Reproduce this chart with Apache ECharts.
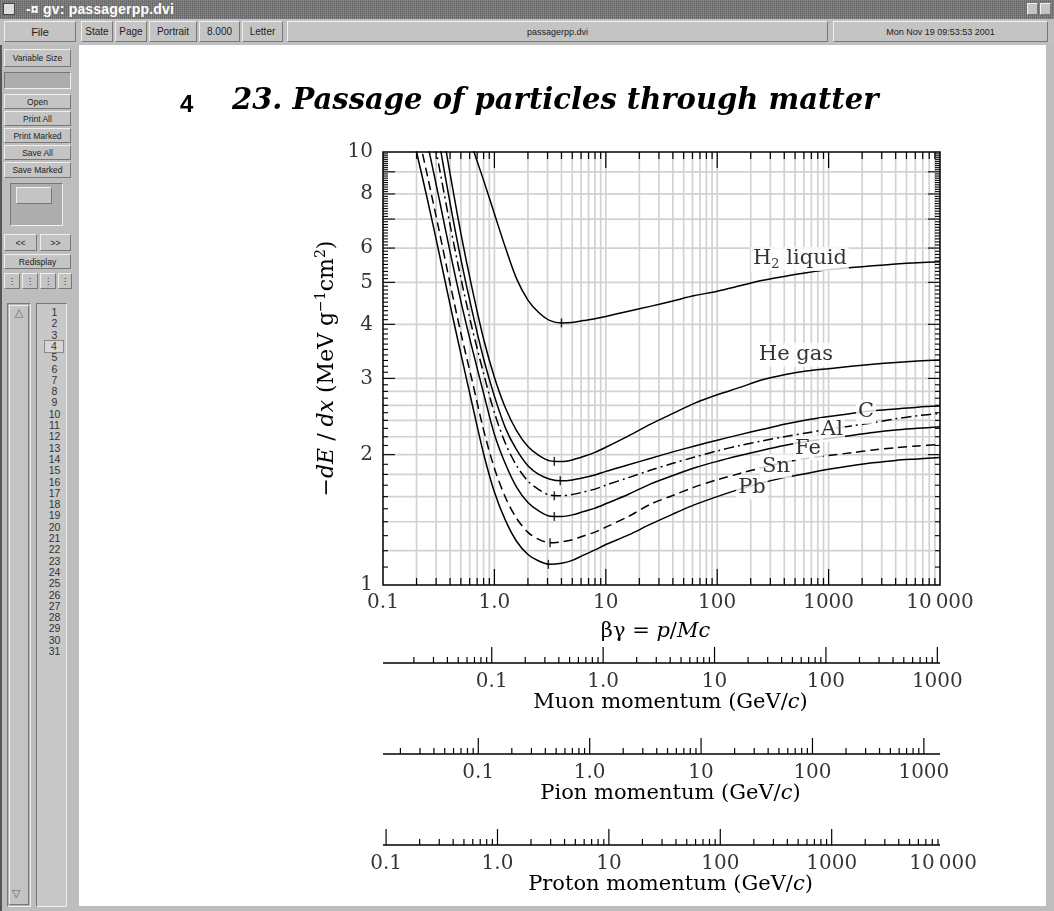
<!DOCTYPE html>
<html>
<head>
<meta charset="utf-8">
<title>gv: passagerpp.dvi</title>
<script src="https://cdn.jsdelivr.net/npm/echarts@6/dist/echarts.min.js"></script>
<style>
  html, body { margin: 0; padding: 0; width: 1054px; height: 911px; overflow: hidden; background: #bdbdbd; font-family: "Liberation Sans", "DejaVu Sans", sans-serif; }
  .abs { position: absolute; box-sizing: border-box; }
  .titlebar { left: 0; top: 0; width: 1054px; height: 19px; background-color: #7c7c7c;
    background-image: repeating-linear-gradient(90deg, rgba(0,0,0,.18) 0 1px, transparent 1px 2px),
                      repeating-linear-gradient(0deg, rgba(255,255,255,.10) 0 1px, transparent 1px 2px); }
  .titletext { left: 26px; top: 1px; color: #fff; font-weight: bold; font-size: 14px; letter-spacing: 0.2px; }
  .btn { background: #c4c4c4; border: 1px solid; border-color: #efefef #777 #777 #efefef; font-size: 9.5px; color: #222;
    display: flex; align-items: center; justify-content: center; white-space: nowrap; }
  .inset { background: #adadad; border: 1px solid; border-color: #777 #efefef #efefef #777; }
  #page { left: 79px; top: 45px; width: 967px; height: 861px; background: #fff; }
  #chart { left: 0; top: 0; width: 1054px; height: 911px; }
  .num { position: absolute; left: 0; width: 100%; text-align: center; font-size: 10.5px; color: #333; line-height: 11px; }
</style>
</head>
<body>
<!-- window chrome -->
<div class="abs titlebar"></div>
<div class="abs" style="left:3px;top:3px;width:12px;height:12px;background:#ddd;border:1px solid #444;"></div>
<div class="abs titletext">-&#164; gv: passagerpp.dvi</div>
<div class="abs btn" style="left:1027px;top:3px;width:11px;height:12px;"></div>
<div class="abs btn" style="left:1040px;top:3px;width:11px;height:12px;"></div>
<div class="abs" style="left:0;top:19px;width:1054px;height:26px;background:#c0c0c0;"></div>
<div class="abs btn" style="left:4px;top:21px;width:72px;height:21px;font-size:11px;">File</div>
<div class="abs btn" style="left:81px;top:21px;width:32px;height:21px;font-size:10px;">State</div>
<div class="abs btn" style="left:115px;top:21px;width:32px;height:21px;font-size:10px;">Page</div>
<div class="abs btn" style="left:149px;top:21px;width:48px;height:21px;font-size:10px;">Portrait</div>
<div class="abs btn" style="left:199px;top:21px;width:41px;height:21px;font-size:10px;">8.000</div>
<div class="abs btn" style="left:242px;top:21px;width:41px;height:21px;font-size:10px;">Letter</div>
<div class="abs btn" style="left:287px;top:21px;width:541px;height:21px;font-size:9px;">passagerpp.dvi</div>
<div class="abs btn" style="left:833px;top:21px;width:215px;height:21px;font-size:9px;">Mon Nov 19 09:53:53 2001</div>

<div class="abs" style="left:0;top:45px;width:79px;height:866px;background:#bdbdbd;border-left:2px solid #555;"></div>
<div class="abs btn" style="left:4px;top:49px;width:67px;height:18px;font-size:8.5px;">Variable Size</div>
<div class="abs inset" style="left:4px;top:72px;width:67px;height:17px;"></div>
<div class="abs btn" style="left:4px;top:94px;width:67px;height:15px;font-size:8.5px;">Open</div>
<div class="abs btn" style="left:4px;top:111px;width:67px;height:15px;font-size:8.5px;">Print All</div>
<div class="abs btn" style="left:4px;top:128px;width:67px;height:15px;font-size:8.5px;">Print Marked</div>
<div class="abs btn" style="left:4px;top:145px;width:67px;height:15px;font-size:8.5px;">Save All</div>
<div class="abs btn" style="left:4px;top:162px;width:67px;height:16px;font-size:8.5px;">Save Marked</div>
<div class="abs inset" style="left:10px;top:183px;width:53px;height:43px;"></div>
<div class="abs btn" style="left:16px;top:187px;width:36px;height:17px;"></div>
<div class="abs btn" style="left:4px;top:234px;width:33px;height:17px;font-size:8.5px;">&lt;&lt;</div>
<div class="abs btn" style="left:40px;top:234px;width:31px;height:17px;font-size:8.5px;">&gt;&gt;</div>
<div class="abs btn" style="left:4px;top:254px;width:67px;height:15px;font-size:8.5px;">Redisplay</div>
<div class="abs btn" style="left:4px;top:273px;width:16px;height:16px;font-size:8px;">&#8942;</div>
<div class="abs btn" style="left:22px;top:273px;width:16px;height:16px;font-size:8px;">&#8942;</div>
<div class="abs btn" style="left:40px;top:273px;width:16px;height:16px;font-size:8px;">&#8942;</div>
<div class="abs btn" style="left:58px;top:273px;width:14px;height:16px;font-size:8px;">&#8942;</div>
<div class="abs inset" style="left:7px;top:303px;width:24px;height:604px;background:#b4b4b4;"></div>
<div class="abs btn" style="left:9px;top:305px;width:20px;height:600px;align-items:flex-start;font-size:11px;color:#666;">&#9651;</div>
<div class="abs" style="left:12px;top:887px;font-size:11px;color:#666;">&#9661;</div>
<div class="abs inset" id="pagelist" style="left:36px;top:303px;width:31px;height:604px;background:#c8c8c8;"></div>

<div class="abs" id="page"></div>
<div class="abs" id="chart"></div>

<script>
// particle masses (GeV/c^2) for the momentum scales
const muonMass = 0.10566
const pionMass = 0.13957
const protonMass = 0.93827
const bgRange = [0.1, 10000]

// -dE/dx (MeV g^-1 cm^2) against beta*gamma
const h2Liquid = [[0.6, 10.9], [0.63, 10.33], [0.8, 8.6], [1.0, 7.2], [1.26, 6.0], [1.58, 5.1], [2.0, 4.55], [2.5, 4.26], [3.16, 4.08], [4, 4.03], [5, 4.04], [6.3, 4.08], [8, 4.12], [10, 4.17], [16, 4.29], [25, 4.40], [40, 4.53], [63, 4.66], [100, 4.77], [160, 4.91], [250, 5.05], [400, 5.16], [630, 5.26], [1000, 5.35], [1600, 5.41], [2500, 5.46], [4000, 5.51], [6300, 5.55], [10000, 5.58]]
const heGas = [[0.35, 10.9], [0.4, 8.91], [0.5, 6.49], [0.63, 4.85], [0.8, 3.70], [1.0, 3.02], [1.26, 2.56], [1.58, 2.274], [2.0, 2.089], [2.5, 1.993], [3.16, 1.935], [4, 1.928], [5, 1.945], [6.3, 1.98], [8, 2.025], [10, 2.08], [16, 2.21], [25, 2.35], [40, 2.49], [63, 2.63], [100, 2.75], [160, 2.86], [250, 2.975], [400, 3.06], [630, 3.12], [1000, 3.16], [1600, 3.20], [2500, 3.235], [4000, 3.265], [6300, 3.29], [10000, 3.31]]
const carbon = [[0.32, 10.53], [0.4, 7.62], [0.5, 5.66], [0.63, 4.30], [0.8, 3.33], [1.0, 2.73], [1.26, 2.30], [1.58, 2.053], [2.0, 1.885], [2.5, 1.80], [3.16, 1.755], [4, 1.74], [5, 1.748], [6.3, 1.768], [8, 1.795], [10, 1.83], [16, 1.895], [25, 1.96], [40, 2.03], [63, 2.095], [100, 2.16], [160, 2.225], [250, 2.285], [400, 2.35], [630, 2.405], [1000, 2.45], [1600, 2.49], [2500, 2.525], [4000, 2.55], [6300, 2.575], [10000, 2.59]]
const aluminium = [[0.25, 12.9], [0.32, 9.21], [0.4, 6.79], [0.5, 5.11], [0.63, 3.925], [0.8, 3.08], [1.0, 2.50], [1.26, 2.12], [1.58, 1.888], [2.0, 1.738], [2.5, 1.661], [3.16, 1.612], [4, 1.607], [5, 1.618], [6.3, 1.64], [8, 1.665], [10, 1.70], [16, 1.77], [25, 1.84], [40, 1.91], [63, 1.975], [100, 2.04], [160, 2.10], [250, 2.15], [400, 2.20], [630, 2.245], [1000, 2.29], [1600, 2.33], [2500, 2.37], [4000, 2.42], [6300, 2.46], [10000, 2.49]]
const iron = [[0.2, 13.6], [0.25, 10.5], [0.32, 7.77], [0.4, 5.88], [0.5, 4.52], [0.63, 3.53], [0.8, 2.77], [1.0, 2.23], [1.26, 1.90], [1.58, 1.683], [2.0, 1.551], [2.5, 1.483], [3.16, 1.442], [4, 1.44], [5, 1.452], [6.3, 1.478], [8, 1.505], [10, 1.54], [16, 1.62], [25, 1.71], [40, 1.79], [63, 1.865], [100, 1.93], [160, 1.99], [250, 2.045], [400, 2.10], [630, 2.145], [1000, 2.18], [1600, 2.215], [2500, 2.25], [4000, 2.28], [6300, 2.30], [10000, 2.32]]
const tin = [[0.2, 11.45], [0.25, 8.83], [0.32, 6.56], [0.4, 4.97], [0.5, 3.82], [0.63, 2.97], [0.8, 2.28], [1.0, 1.86], [1.26, 1.59], [1.58, 1.426], [2.0, 1.323], [2.5, 1.275], [3.16, 1.252], [4, 1.258], [5, 1.272], [6.3, 1.298], [8, 1.325], [10, 1.36], [16, 1.44], [25, 1.535], [40, 1.61], [63, 1.685], [100, 1.75], [160, 1.81], [250, 1.865], [400, 1.92], [630, 1.96], [1000, 1.99], [1600, 2.02], [2500, 2.05], [4000, 2.075], [6300, 2.095], [10000, 2.11]]
const lead = [[0.18, 11.2], [0.2, 10], [0.25, 7.79], [0.32, 5.82], [0.4, 4.44], [0.5, 3.42], [0.63, 2.625], [0.8, 2.01], [1.0, 1.64], [1.26, 1.408], [1.58, 1.262], [2.0, 1.176], [2.5, 1.136], [3.16, 1.116], [4, 1.122], [5, 1.14], [6.3, 1.172], [8, 1.205], [10, 1.24], [16, 1.305], [25, 1.38], [40, 1.458], [63, 1.533], [100, 1.60], [160, 1.665], [250, 1.72], [400, 1.77], [630, 1.81], [1000, 1.85], [1600, 1.885], [2500, 1.915], [4000, 1.94], [6300, 1.955], [10000, 1.97]]

// minimum-ionization marks
const minima = [[4.0, 4.03], [3.45, 1.93], [3.9, 1.74], [3.45, 1.607], [3.45, 1.44], [3.16, 1.252], [3.05, 1.116]]

// curve names and where they sit
const curveLabels = [['H2', 553, 5.66], ['He gas', 509, 3.40], ['C', 2168, 2.51], ['Al', 1074, 2.28], ['Fe', 653, 2.07], ['Sn', 337, 1.88], ['Pb', 205, 1.68]]

// tick labels
const xTickValues = [0.1, 1, 10, 100, 1000, 10000]
const xTickLabels = ['0.1', '1.0', '10', '100', '1000', '10\u2009000']
const yTickValues = [1, 2, 3, 4, 5, 6, 8, 10]
const yGridValues = [1.2, 1.4, 1.6, 1.8, 2, 2.2, 2.4, 2.6, 2.8, 3, 4, 5, 6, 7, 8, 9]
const momTickValues = [0.1, 1, 10, 100, 1000]
const momTickLabels = ['0.1', '1.0', '10', '100', '1000']
const protonTickValues = [0.1, 1, 10, 100, 1000, 10000]
const protonTickLabels = ['0.1', '1.0', '10', '100', '1000', '10\u2009000']

// page list in the side panel
const pageList = document.getElementById('pagelist')
for (let i = 1; i <= 31; i++) {
  const d = document.createElement('div')
  d.className = 'num'
  d.style.top = (3 + (i - 1) * 11.3) + 'px'
  d.style.paddingLeft = '3px'
  d.textContent = i
  if (i === 4) { d.style.left = '7px'; d.style.width = '18px'; d.style.paddingLeft = '0'; d.style.border = '1px solid #8a8a8a'; d.style.background = '#d6d6d6'; d.style.top = (2 + (i - 1) * 11.3) + 'px' }
  pageList.appendChild(d)
}

const SERIF = '"DejaVu Serif", serif'
const GRID_GRAY = '#d2d2d2'

// k * 10^n values strictly inside (lo, hi)
function decadeValues(lo, hi, mults) {
  const out = []
  for (let e = -3; e <= 5; e++) {
    mults.forEach(k => {
      const v = k * Math.pow(10, e)
      if (v > lo * 1.0001 && v < hi * 0.9999) out.push(v)
    })
  }
  return out
}

function seg(a, b, color, w) {
  return { type: 'line', shape: { x1: a[0], y1: a[1], x2: b[0], y2: b[1] }, style: { stroke: color, lineWidth: w } }
}

const xGridValues = decadeValues(bgRange[0], bgRange[1], [1, 2, 3, 4, 5, 6, 7, 8, 9])
const xMinorTicks = decadeValues(bgRange[0], bgRange[1], [2, 3, 4, 5, 6, 7, 8, 9])
const xMajorTicks = decadeValues(bgRange[0], bgRange[1], [1])
const yMinorTicks = []
for (let i = 11; i < 100; i++) if (i % 10 !== 0) yMinorTicks.push(i / 10)
const yMajorTicks = [2, 3, 4, 5, 6, 7, 8, 9]

const chart = echarts.init(document.getElementById('chart'))

const labelFont = { color: '#000', fontFamily: SERIF, fontSize: 20 }

function curve(name, data, dash) {
  return {
    type: 'line', name, data, xAxisIndex: 0, yAxisIndex: 0,
    showSymbol: false, symbol: 'none', smooth: 0.3, clip: true, silent: true, z: 3,
    lineStyle: { color: '#000', width: 1.5, type: dash || 'solid' }
  }
}

function labelScatter(idx, values, labels, pos, dist, y) {
  return {
    type: 'scatter', xAxisIndex: idx, yAxisIndex: idx, silent: true, clip: false, symbolSize: 0, z: 6,
    data: values.map((v, i) => ({ value: pos === 'left' ? [bgRange[0], v] : [v, y], name: labels[i] })),
    label: { show: true, position: pos, distance: dist, formatter: '{b}', ...labelFont },
    emphasis: { disabled: true }
  }
}

function momentumAxis(idx, mass, majors, labels) {
  const lo = mass * bgRange[0], hi = mass * bgRange[1]
  const minors = decadeValues(lo, hi, [2, 3, 4, 5, 6, 7, 8, 9])
  const majorsIn = majors.filter(v => v >= lo && v <= hi)
  return [
    {
      type: 'custom', xAxisIndex: idx, yAxisIndex: idx, silent: true, z: 2, data: [[mass, 0]],
      renderItem: (params, api) => {
        const kids = [seg(api.coord([lo, 0]), api.coord([hi, 0]), '#000', 1.5)]
        minors.forEach(v => { const a = api.coord([v, 0]); kids.push(seg(a, [a[0], a[1] - 6], '#000', 1.2)) })
        majorsIn.forEach(v => { const a = api.coord([v, 0]); kids.push(seg(a, [a[0], a[1] - 16], '#000', 1.2)) })
        return { type: 'group', children: kids }
      }
    },
    labelScatter(idx, majors, labels, 'bottom', 9, 0)
  ]
}

function nameStyle(size, padding) {
  return {
    color: '#000', fontFamily: SERIF, fontSize: size, padding: padding,
    rich: { i: { fontFamily: SERIF, fontSize: size, fontStyle: 'italic', color: '#000' } }
  }
}

function momentumGrid(top) {
  return { left: 383, width: 557, top: top, height: 33, outerBoundsMode: 'none', containLabel: false }
}
function momentumX(idx, mass, name) {
  return {
    type: 'log', logBase: 10, gridIndex: idx, min: mass * bgRange[0], max: mass * bgRange[1],
    axisLine: { show: false }, axisTick: { show: false }, axisLabel: { show: false }, splitLine: { show: false },
    name: name, nameLocation: 'middle', nameGap: 29, nameTextStyle: nameStyle(21, [0, 0, 0, 18])
  }
}
function hiddenY(idx) {
  return { type: 'value', gridIndex: idx, min: 0, max: 1, show: false }
}

const option = {
  backgroundColor: 'transparent',
  animation: false,
  title: [
    { text: '4', left: 175, top: 88, textStyle: { fontFamily: '"Liberation Sans", sans-serif', fontWeight: 'bold', fontSize: 24, color: '#000' } },
    { text: '23. Passage of particles through matter', left: 227, top: 82, textStyle: { fontFamily: SERIF, fontStyle: 'italic', fontWeight: 'bold', fontSize: 29, color: '#000' } }
  ],
  grid: [
    { left: 383, top: 152, width: 557, height: 433, outerBoundsMode: 'none', containLabel: false },
    momentumGrid(630),
    momentumGrid(721),
    momentumGrid(812)
  ],
  xAxis: [
    {
      type: 'log', logBase: 10, gridIndex: 0, min: bgRange[0], max: bgRange[1],
      axisLine: { show: false }, axisTick: { show: false }, axisLabel: { show: false }, splitLine: { show: false },
      name: '\u03b2\u03b3 = {i|p}/{i|Mc}', nameLocation: 'middle', nameGap: 36, nameTextStyle: nameStyle(21, [0, 12, 0, 0])
    },
    momentumX(1, muonMass, 'Muon momentum (GeV/{i|c})'),
    momentumX(2, pionMass, 'Pion momentum (GeV/{i|c})'),
    momentumX(3, protonMass, 'Proton momentum (GeV/{i|c})')
  ],
  yAxis: [
    {
      type: 'log', logBase: 10, gridIndex: 0, min: 1, max: 10,
      axisLine: { show: false }, axisTick: { show: false }, axisLabel: { show: false }, splitLine: { show: false },
      name: '{m|\u2212}{i|dE}{m| / }{i|dx}{m| (MeV g}{s|\u22121}{m|cm}{s|2}{m|)}',
      nameLocation: 'middle', nameRotate: 90, nameGap: 42,
      nameTextStyle: {
        color: '#000', fontFamily: SERIF, fontSize: 22,
        rich: {
          m: { fontFamily: SERIF, fontSize: 22, color: '#000', lineHeight: 27 },
          i: { fontFamily: SERIF, fontSize: 22, fontStyle: 'italic', color: '#000', lineHeight: 27 },
          s: { fontFamily: SERIF, fontSize: 14, color: '#000', verticalAlign: 'top', lineHeight: 27 }
        }
      }
    },
    hiddenY(1), hiddenY(2), hiddenY(3)
  ],
  series: [
    // grid lines, frame and ticks of the main plot
    {
      type: 'custom', xAxisIndex: 0, yAxisIndex: 0, silent: true, z: 1, data: [[1, 1]],
      renderItem: (params, api) => {
        const kids = []
        xGridValues.forEach(v => kids.push(seg(api.coord([v, 1]), api.coord([v, 10]), GRID_GRAY, 1.7)))
        yGridValues.forEach(v => kids.push(seg(api.coord([bgRange[0], v]), api.coord([bgRange[1], v]), GRID_GRAY, 1.7)))
        const tl = api.coord([bgRange[0], 10]), br = api.coord([bgRange[1], 1])
        kids.push({ type: 'rect', shape: { x: tl[0], y: tl[1], width: br[0] - tl[0], height: br[1] - tl[1] }, style: { fill: 'none', stroke: '#000', lineWidth: 1.5 } })
        const xt = (v, len) => {
          const b = api.coord([v, 1]), t = api.coord([v, 10])
          kids.push(seg(b, [b[0], b[1] - len], '#000', 1.2))
          kids.push(seg(t, [t[0], t[1] + len], '#000', 1.2))
        }
        const yt = (v, len) => {
          const l = api.coord([bgRange[0], v]), r = api.coord([bgRange[1], v])
          kids.push(seg(l, [l[0] + len, l[1]], '#000', 1.1))
          kids.push(seg(r, [r[0] - len, r[1]], '#000', 1.1))
        }
        xMinorTicks.forEach(v => xt(v, 7))
        xMajorTicks.forEach(v => xt(v, 16))
        yMinorTicks.forEach(v => yt(v, 5))
        yMajorTicks.forEach(v => yt(v, 12))
        return { type: 'group', children: kids }
      }
    },
    curve('H2 liquid', h2Liquid),
    curve('He gas', heGas),
    curve('C', carbon),
    curve('Al', aluminium, [10, 4, 2, 4]),
    curve('Fe', iron),
    curve('Sn', tin, [9, 5]),
    curve('Pb', lead),
    {
      type: 'scatter', xAxisIndex: 0, yAxisIndex: 0, silent: true, z: 4, data: minima,
      symbol: 'rect', symbolSize: [1.5, 9], itemStyle: { color: '#000' }, emphasis: { disabled: true }
    },
    {
      type: 'scatter', xAxisIndex: 0, yAxisIndex: 0, silent: true, clip: false, symbolSize: 0, z: 6,
      data: curveLabels.map(c => ({ value: [c[1], c[2]], name: c[0] })),
      label: {
        show: true, position: 'inside', backgroundColor: '#fff', padding: [0, 2],
        formatter: p => p.name === 'H2' ? '{a|H}{b|2}{a| liquid}' : '{a|' + p.name + '}',
        rich: {
          a: { fontFamily: SERIF, fontSize: 21, color: '#000', lineHeight: 24 },
          b: { fontFamily: SERIF, fontSize: 13, color: '#000', verticalAlign: 'bottom', lineHeight: 24 }
        }
      },
      emphasis: { disabled: true }
    },
    labelScatter(0, xTickValues, xTickLabels, 'bottom', 8, 1),
    labelScatter(0, yTickValues, yTickValues.map(String), 'left', 10),
    ...momentumAxis(1, muonMass, momTickValues, momTickLabels),
    ...momentumAxis(2, pionMass, momTickValues, momTickLabels),
    ...momentumAxis(3, protonMass, protonTickValues, protonTickLabels)
  ]
}

chart.setOption(option)
</script>
</body>
</html>
